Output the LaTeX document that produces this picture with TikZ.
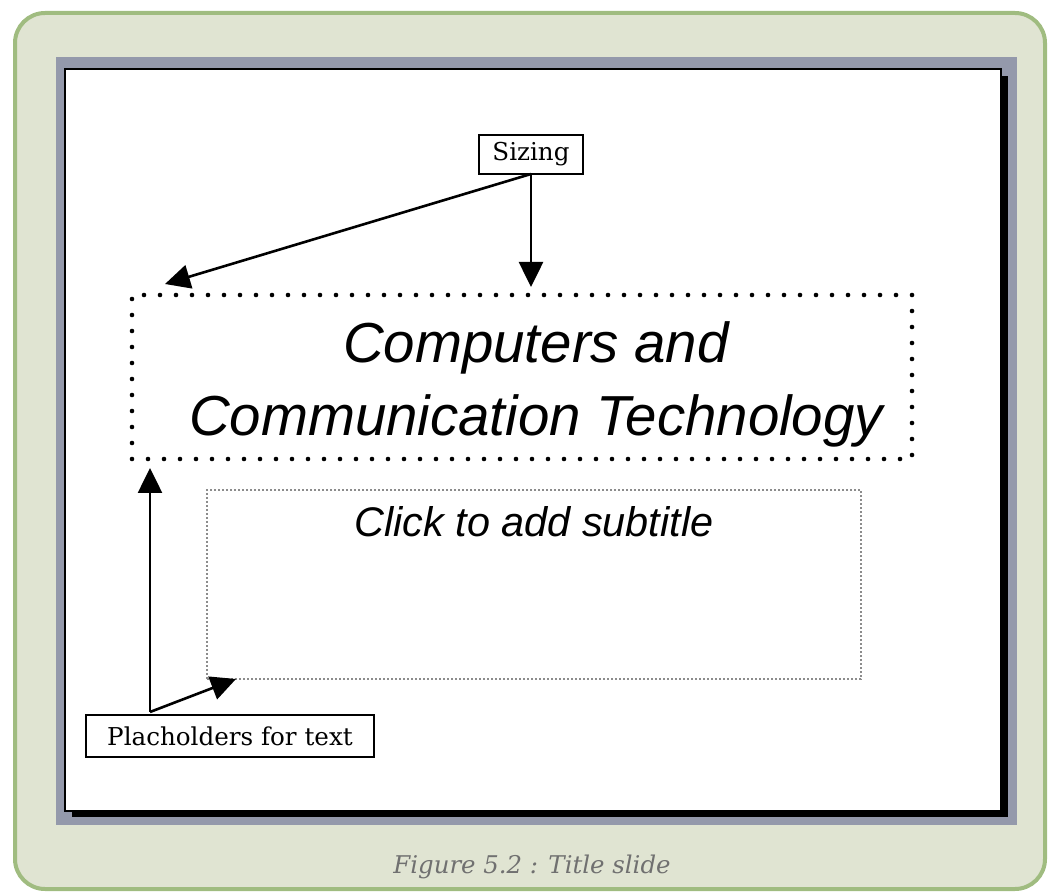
\documentclass[tikz,border=0pt]{standalone}
\usepackage{fontspec}
\setmainfont{DejaVu Serif}
\newfontfamily\slidefont{Liberation Sans}
\usetikzlibrary{
    arrows.meta,
    calc
}
\definecolor{framegreen}{RGB}{160,188,128}
\definecolor{framefill}{RGB}{224,228,210}
\definecolor{slate}{RGB}{148,153,171}
\definecolor{captiongray}{RGB}{112,112,112}
\definecolor{holdergray}{RGB}{140,140,140}
\tikzset {
    label box/.style = {draw, line width = 0.6pt, fill = white, inner sep = 0pt, outer sep = 0pt, font = \fontsize{12.3pt}{14pt}\selectfont},
    title holder/.style = {draw, line width = 2.3pt, line cap = round, dash pattern = on 0pt off 8pt, inner sep = 0pt, outer sep = 0pt, minimum width = 390pt, minimum height = 82pt},
    sub holder/.style = {draw = holdergray, line width = 0.7pt, dash pattern = on 1.2pt off 0.8pt, inner sep = 0pt, outer sep = 0pt, minimum width = 327pt, minimum height = 94.5pt},
    slide text/.style = {anchor = base, inner sep = 0pt, font = \slidefont\itshape\fontsize{#1}{#1}\selectfont},
    pointer/.style = {line width = 1.3pt, -{Triangle[length = 12.5pt, width = 12pt]}}
}

\begin{document}
\begin{tikzpicture}[x = 0.5pt, y = -0.5pt]
    \useasboundingbox (0, 0) rectangle (1049, 892);
    \draw [framegreen, fill = framefill, line width = 2pt, rounded corners = 15pt] (15, 13) rectangle (1045, 889);
    \fill [slate] (56, 57) rectangle (1017, 825);
    \fill (72, 76) rectangle (1008, 817);
    \draw [fill = white, line width = 0.6pt] (65, 69) rectangle (1001, 811);
    \node (ttlbox) [title holder] at (522, 377) {};
    \node (subbox) [sub holder] at (534, 584.5) {};
    \node (ttl) [slide text = 28.2pt] at (536, 363) {Computers and};
    \node (ttlb) [slide text = 28.2pt] at (536, 436) {Communication Technology};
    \node (sub) [slide text = 20.7pt] at (534, 537) {Click to add subtitle};
    \node (sizing) [label box, minimum width = 52pt, minimum height = 19.5pt] at (531, 154.5) {Sizing};
    \node (place) [label box, minimum width = 144pt, minimum height = 21pt] at (230, 736) {Placholders for text};
    \coordinate (fork) at ($(place.north west) + (64, -3)$);
    \draw [pointer] (sizing.south) -- ($(sizing.south |- ttlbox.north) + (0, -8)$);
    \draw [pointer] (sizing.south) -- ($(ttlbox.north west) + (33, -11)$);
    \draw [pointer] (fork) -- ($(ttlbox.south west) + (18, 9)$);
    \draw [pointer] (fork) -- ($(subbox.south west) + (29, 0)$);
    \node (caption) [anchor = base, text = captiongray, font = \itshape\fontsize{12.2pt}{14pt}\selectfont] at (532, 873) {Figure 5.2 : Title slide};
\end{tikzpicture}
\end{document}
